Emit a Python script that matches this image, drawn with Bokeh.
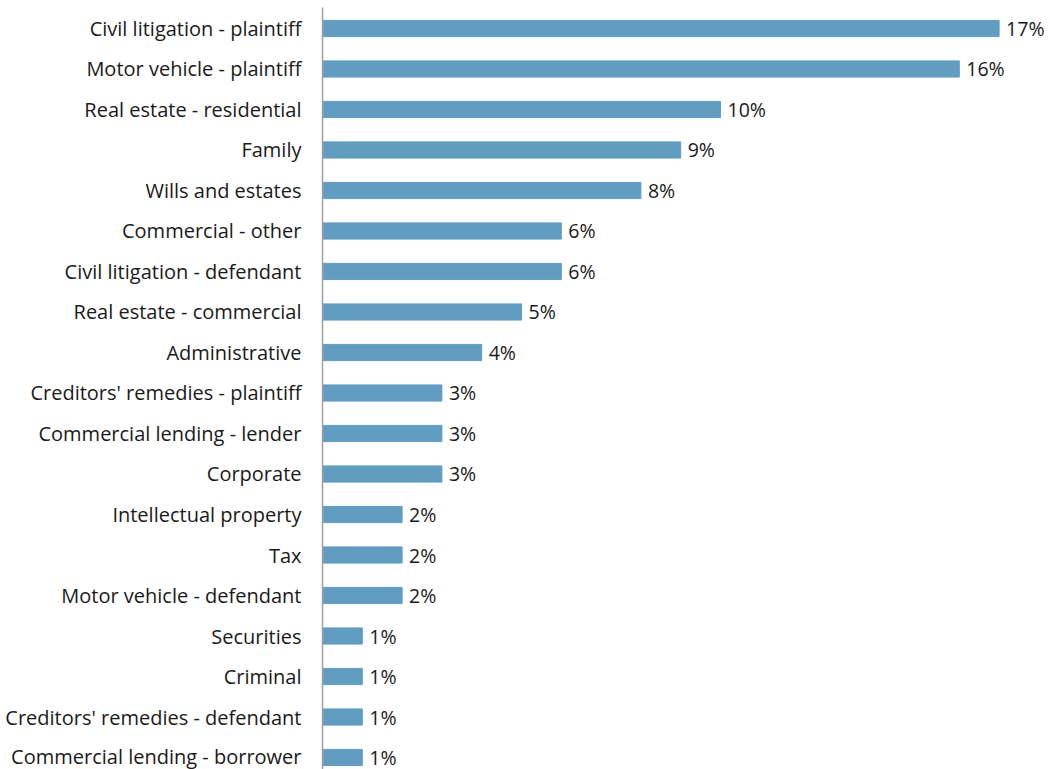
from bokeh.plotting import figure
from bokeh.models import Range1d, FixedTicker, ColumnDataSource, LabelSet
from bokeh.core.properties import value
from bokeh.embed import file_html
from bokeh.resources import INLINE

categories = [
    "Civil litigation - plaintiff", "Motor vehicle - plaintiff", "Real estate - residential",
    "Family", "Wills and estates", "Commercial - other", "Civil litigation - defendant",
    "Real estate - commercial", "Administrative", "Creditors' remedies - plaintiff",
    "Commercial lending - lender", "Corporate", "Intellectual property", "Tax",
    "Motor vehicle - defendant", "Securities", "Criminal", "Creditors' remedies - defendant",
    "Commercial lending - borrower",
]
values = [17, 16, 10, 9, 8, 6, 6, 5, 4, 3, 3, 3, 2, 2, 2, 1, 1, 1, 1]

pos = list(range(len(categories)))
src = ColumnDataSource(dict(
    y=pos, v=values, lab=[f"{v}%" for v in values],
))

FONT = "Open Sans"
p = figure(width=1050, height=769, output_backend="svg", toolbar_location=None,
           x_range=Range1d(0, 728 / 39.8), y_range=Range1d(18.296, -0.518),
           min_border_left=322, min_border_right=0, min_border_top=7, min_border_bottom=0)
p.hbar(y="y", right="v", left=0, height=0.4, color="#619DC1", source=src)
p.add_layout(LabelSet(x="v", y="y", text="lab", source=src, x_offset=7,
                      text_baseline="middle", text_font=value(FONT), text_font_size="19.5px",
                      text_color="#1a1a1a"))

p.xaxis.visible = False
p.grid.visible = False
p.outline_line_color = None
ya = p.yaxis[0]
ya.ticker = FixedTicker(ticks=pos)
ya.major_label_overrides = {i: c for i, c in zip(pos, categories)}
ya.major_tick_line_color = None
ya.minor_tick_line_color = None
ya.major_tick_out = 0
ya.major_label_standoff = 21
ya.axis_line_color = "#a0a0a0"
ya.axis_line_width = 1.5
ya.major_label_text_font = FONT
ya.major_label_text_font_size = "20px"
ya.major_label_text_color = "#1a1a1a"

open("out.html", "w").write(file_html(p, INLINE))
